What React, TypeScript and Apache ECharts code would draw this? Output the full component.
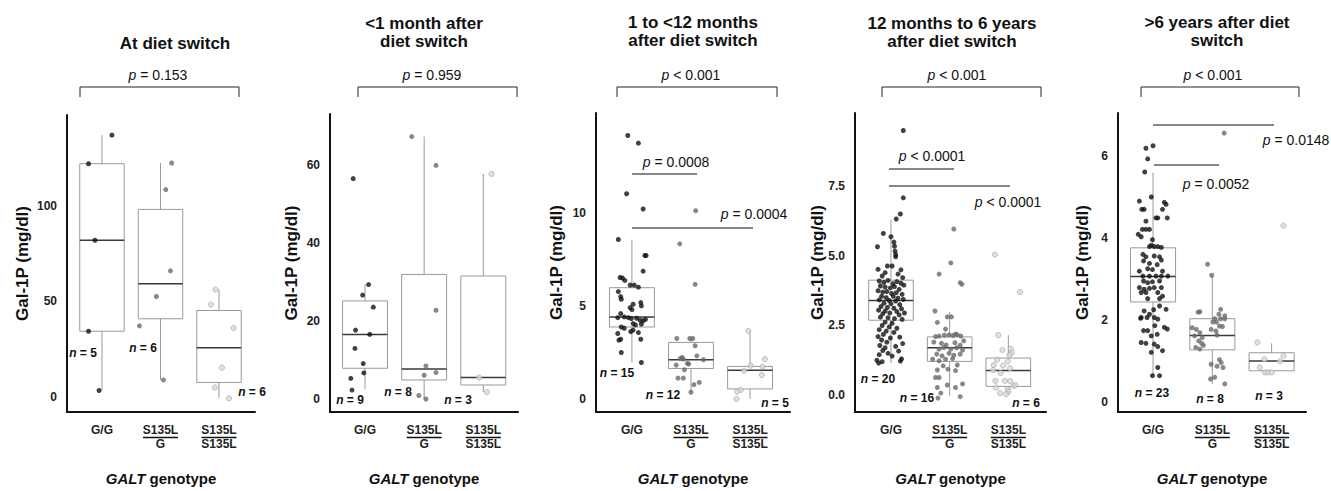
import React, { useEffect, useRef } from 'react';
import * as echarts from 'echarts';

const FF = '"Liberation Sans", Arial, Helvetica, sans-serif';

const categories = ['G/G', 'S135L\nG', 'S135L\nS135L'];
const panelTitles = [
  'At diet switch',
  '<1 month after\ndiet switch',
  '1 to <12 months\nafter diet switch',
  '12 months to 6 years\nafter diet switch',
  '>6 years after diet\nswitch',
];
const yTitle = 'Gal-1P (mg/dl)';
const overallP = ['= 0.153', '= 0.959', '< 0.001', '< 0.001', '< 0.001'];
const groupN = [[5, 6, 6], [9, 8, 3], [15, 12, 5], [20, 16, 6], [23, 8, 3]];
const yTicks = [[0, 50, 100], [0, 20, 40, 60], [0, 5, 10], [0, 2.5, 5, 7.5], [0, 2, 4, 6]];
const yMin = [-7.6, -3.33, -0.7, -0.61, -0.236];
const yMax = [147.2, 73.2, 15.37, 10.14, 7.06];
const xMin = [0.402, 0.408, 0.392, 0.387, 0.409];
const xMax = [3.615, 3.587, 3.676, 3.642, 3.58];

// box stats: [lower whisker, Q1, median, Q3, upper whisker]
const box1 = [[3.6, 34.5, 81.9, 121.8, 136.7], [9.1, 41.0, 59.3, 98.0, 122.2], [-0.4, 7.8, 25.9, 45.3, 56.2]];
const box2 = [[2.5, 7.9, 16.6, 25.2, 29.4], [0.0, 4.9, 7.7, 32.0, 67.4], [1.8, 3.6, 5.5, 31.6, 57.8]];
const box3 = [[1.96, 3.87, 4.41, 5.98, 8.57], [0.36, 1.64, 2.11, 3.04, 3.25], [0.0, 0.54, 1.55, 1.75, 3.66]];
const box4 = [[1.15, 2.69, 3.4, 4.13, 6.31], [-0.02, 1.21, 1.7, 2.09, 2.99], [0.03, 0.31, 0.88, 1.33, 2.15]];
const box5 = [[0.65, 2.45, 3.07, 3.77, 5.6], [0.45, 1.28, 1.63, 2.04, 3.1], [0.75, 0.77, 1.01, 1.21, 1.44]];

// individual measurements: [jittered group position, value]
const p1GG = [[1.17, 136.7], [0.77, 121.8], [0.88, 81.9], [0.77, 34.5], [0.95, 3.6]];
const p1SG = [[2.19, 122.2], [2.09, 108.3], [2.17, 66.0], [1.93, 52.6], [1.64, 37.3], [2.05, 9.1]];
const p1SS = [[2.94, 56.2], [2.86, 48.4], [3.25, 36.2], [3.05, 15.5], [2.93, 5.2], [3.17, -0.5]];

const p2GG = [[0.8, 56.6], [1.06, 29.4], [0.96, 26.7], [1.14, 23.6], [0.84, 17.7], [1.08, 16.6], [0.83, 13.0], [0.97, 9.1], [0.98, 6.7], [0.76, 5.3], [0.78, 2.3]];
const p2SG = [[1.79, 67.4], [2.2, 60.0], [2.2, 22.8], [2.03, 8.5], [2.0, 6.1], [2.2, 6.8], [1.91, 0.9], [2.03, 0.0]];
const p2SS = [[3.14, 57.8], [2.93, 5.5], [3.06, 1.8]];

const p3GG = [[0.93, 14.16], [1.11, 13.75], [0.91, 11.03], [1.19, 10.21], [0.77, 8.57], [1.22, 7.71], [1.24, 7.71], [1.19, 6.87], [0.8, 6.53], [0.84, 6.5], [0.88, 6.37], [0.97, 6.12], [1.04, 6.12], [1.11, 6.01], [0.77, 5.77], [0.81, 5.5], [0.82, 5.36], [1.02, 5.09], [1.15, 5.18], [1.16, 5.0], [0.97, 4.91], [1.0, 4.8], [0.81, 4.59], [0.87, 4.41], [0.94, 4.37], [0.99, 4.32], [1.08, 4.34], [1.14, 4.23], [1.19, 4.2], [1.23, 4.28], [0.76, 4.37], [1.02, 4.05], [1.06, 3.98], [0.82, 3.87], [0.87, 3.8], [1.16, 4.02], [1.02, 3.7], [0.98, 3.62], [1.11, 3.57], [0.76, 3.52], [0.78, 3.16], [0.81, 3.21], [1.15, 3.21], [0.82, 2.5], [1.16, 1.96]];
const p3SG = [[2.08, 10.12], [1.81, 8.34], [2.07, 6.16], [1.76, 3.25], [1.98, 3.25], [2.03, 3.25], [2.07, 2.86], [1.85, 2.23], [1.87, 2.14], [1.82, 2.18], [2.1, 2.32], [1.94, 1.91], [1.96, 1.88], [2.21, 2.11], [1.75, 1.82], [1.89, 1.57], [1.78, 1.12], [1.87, 1.12], [2.05, 0.77], [2.14, 0.89], [2.0, 0.36]];
const p3SS = [[2.97, 3.66], [3.25, 2.14], [3.01, 1.79], [3.21, 1.74], [2.9, 1.52], [3.2, 1.29], [2.84, 0.48], [2.78, 0.39], [2.77, 0.0]];

const p4GG = [[1.21, 9.51], [1.21, 7.09], [1.16, 6.51], [1.09, 6.33], [0.87, 5.81], [1.0, 5.69], [0.77, 5.33], [1.05, 5.5], [1.06, 5.35], [1.07, 5.17], [1.08, 5.05], [1.08, 4.97], [0.94, 4.64], [1.02, 4.64], [0.78, 4.52], [1.17, 4.5], [0.9, 4.4], [1.12, 4.35], [0.85, 4.28], [1.2, 4.22],
  [0.8, 4.1], [0.88, 4.05], [0.95, 4.12], [1.03, 4.0], [1.1, 4.08], [1.17, 4.02], [1.22, 3.95], [0.82, 3.92], [0.9, 3.88], [0.99, 3.85], [1.06, 3.9], [1.14, 3.8], [0.78, 3.75], [0.86, 3.7], [0.93, 3.72], [1.01, 3.65], [1.09, 3.68], [1.19, 3.62], [0.84, 3.55], [0.92, 3.5], [1.04, 3.55], [1.12, 3.48], [0.8, 3.42], [0.97, 3.4], [1.08, 3.38], [1.21, 3.44], [0.88, 3.3], [1.0, 3.28], [1.15, 3.25], [0.83, 3.18], [0.94, 3.15], [1.05, 3.12], [1.18, 3.1], [0.79, 3.05], [0.9, 3.02], [1.1, 3.0], [0.86, 2.92], [0.98, 2.95], [1.14, 2.88], [1.23, 2.95], [0.82, 2.8], [0.95, 2.78], [1.06, 2.75], [1.19, 2.72],
  [0.9, 2.62], [1.02, 2.58], [0.85, 2.5], [0.97, 2.45], [1.1, 2.4], [0.8, 2.35], [0.92, 2.3], [1.05, 2.25], [0.87, 2.18], [0.78, 2.1], [0.99, 2.05], [1.15, 2.08], [0.84, 1.98], [0.93, 1.9], [1.2, 1.85], [0.81, 1.78], [0.9, 1.7], [1.08, 1.75], [0.86, 1.6], [1.13, 1.58], [0.95, 1.5], [0.8, 1.45], [1.02, 1.4], [1.18, 1.3], [0.76, 1.25], [0.85, 1.2], [1.16, 1.22], [0.79, 1.15]];
const p4SG = [[2.07, 5.97], [2.02, 4.75], [1.82, 4.35], [2.18, 4.04], [2.21, 3.98], [1.75, 3.02], [1.96, 2.81], [2.03, 2.81], [1.79, 2.61], [1.93, 2.37], [2.1, 2.19], [1.76, 2.1], [1.82, 2.12], [1.91, 2.15], [1.99, 2.16], [2.06, 2.14], [2.13, 2.17], [2.19, 2.12], [1.73, 1.9], [1.86, 1.86], [1.94, 1.8], [2.09, 1.88], [2.18, 1.79], [2.24, 1.95], [1.82, 1.65], [1.9, 1.71], [2.02, 1.65], [2.12, 1.7], [2.22, 1.62], [1.78, 1.47], [1.87, 1.41], [1.99, 1.5], [2.07, 1.43], [2.18, 1.47], [1.71, 1.29], [1.82, 1.23], [1.93, 1.29], [2.05, 1.31], [1.89, 1.05], [1.79, 0.9], [1.97, 0.93], [2.13, 1.08], [1.76, 0.63], [1.82, 0.63], [2.1, 0.88], [1.96, 0.36], [1.79, 0.27], [2.1, 0.27], [2.22, 0.4], [1.85, 0.07], [1.8, -0.11], [2.18, -0.06]];
const p4SS = [[2.77, 5.05], [3.2, 3.7], [2.83, 2.15], [2.9, 1.62], [3.04, 1.66], [3.06, 1.52], [3.02, 1.44], [2.81, 1.27], [2.99, 1.21], [2.75, 1.08], [2.91, 1.06], [3.03, 0.96], [2.74, 0.9], [2.87, 0.79], [2.78, 0.51], [2.94, 0.51], [3.03, 0.5], [3.09, 0.33], [3.12, 0.36], [2.79, 0.27], [2.99, 0.22], [2.86, 0.07], [3.0, 0.12], [2.96, 0.03]];

const p5GG = [[1.0, 6.26], [0.88, 6.2], [0.91, 5.94], [0.86, 5.62], [0.97, 5.01], [0.77, 4.91], [0.81, 4.71], [0.85, 4.71], [1.19, 4.88], [1.22, 4.83], [1.16, 4.71], [1.24, 4.5], [1.08, 4.5], [0.88, 4.42], [1.05, 4.5], [0.82, 4.22], [0.88, 4.22], [0.94, 4.22], [0.75, 4.1], [0.8, 4.04], [0.99, 3.97], [0.97, 3.83], [0.94, 3.8], [1.02, 3.8], [1.08, 3.8], [1.14, 3.78], [0.83, 3.61], [0.88, 3.55], [1.02, 3.57], [1.11, 3.55], [0.84, 3.45], [0.94, 3.39], [1.07, 3.36], [1.14, 3.47], [0.77, 3.2], [0.91, 3.26], [0.99, 3.24], [1.16, 3.2], [0.83, 3.08], [0.94, 3.08], [1.05, 3.08], [1.14, 3.08], [1.25, 3.08], [0.84, 2.96], [0.91, 2.92], [0.99, 2.94], [1.11, 2.96], [0.77, 2.8], [0.85, 2.76], [0.94, 2.78], [1.02, 2.8], [1.14, 2.8], [0.8, 2.68], [0.88, 2.68], [1.08, 2.68], [1.16, 2.59], [0.91, 2.53], [1.11, 2.53], [1.11, 2.35], [1.01, 2.26], [0.85, 2.23], [0.94, 2.15], [0.8, 2.07], [0.79, 2.05], [0.9, 2.07], [1.02, 2.07], [1.08, 2.03], [1.22, 2.27], [1.24, 1.79], [1.19, 1.83], [1.03, 1.87], [0.84, 1.75], [0.91, 1.75], [0.97, 1.62], [1.07, 1.66], [0.8, 1.46], [0.88, 1.44], [1.02, 1.42], [1.08, 1.36], [1.16, 1.26], [0.97, 1.22], [1.08, 0.85], [0.99, 0.65], [1.11, 0.65]];
const p5SG = [[2.2, 6.57], [1.92, 3.37], [1.99, 3.1], [1.76, 2.2], [1.79, 2.21], [2.14, 2.27], [2.11, 2.15], [2.21, 2.11], [2.04, 2.04], [2.14, 2.04], [2.21, 2.04], [2.01, 1.96], [2.07, 1.96], [2.12, 1.86], [2.17, 1.85], [1.66, 1.82], [1.73, 1.78], [1.79, 1.7], [1.7, 1.62], [1.83, 1.58], [1.77, 1.5], [1.82, 1.44], [1.85, 1.39], [1.72, 1.34], [1.79, 1.3], [1.98, 1.78], [2.06, 1.74], [2.08, 1.64], [2.12, 1.04], [2.15, 0.97], [1.98, 0.93], [2.18, 0.85], [2.08, 0.88], [2.04, 0.61], [1.97, 0.57], [2.21, 0.45]];
const p5SS = [[3.2, 4.31], [2.76, 1.46], [2.88, 1.05], [3.2, 1.13], [3.14, 1.0], [2.8, 0.85], [2.89, 0.73], [2.94, 0.73], [3.0, 0.73]];

const boxes = [box1, box2, box3, box4, box5];
const points = [[p1GG, p1SG, p1SS], [p2GG, p2SG, p2SS], [p3GG, p3SG, p3SS], [p4GG, p4SG, p4SS], [p5GG, p5SG, p5SS]];

// pairwise comparison labels per panel
const pairP = [[], [], ['= 0.0008', '= 0.0004'], ['< 0.0001', '< 0.0001'], ['= 0.0148', '= 0.0052']];

// ---- layout (pixels) ----
const gridLeft = [67, 330, 596, 855, 1118];
const gridWidth = [188, 188, 194, 191, 188];
const gridTop = [115, 114, 113, 113, 113];
const gridHeight = [299, 299, 300, 300, 300];
const yTitleX = [22, 291, 556, 817, 1082];
const titleX = [175, 424, 693, 952, 1217];
const titleY = [43, 32, 31, 32, 31];
const pX = [158, 432, 691, 957, 1213];
const bracketX = [[80, 239], [358, 517], [617, 777], [882, 1041], [1141, 1299]];
const nPos = [
  [[83, 353], [143, 348], [252, 392]],
  [[350, 400], [398, 392], [458, 400]],
  [[617, 373], [663, 395], [775, 403]],
  [[878, 379], [917, 398], [1026, 403]],
  [[1152, 393], [1210, 399], [1269, 396]],
];
const pairLines = [[], [], [[632, 697, 174], [632, 753, 228]], [[889, 954, 169], [889, 1010, 186]], [[1153, 1274, 125], [1154, 1219, 165]]];
const pairText = [[], [], [[676, 162], [754, 214]], [[932, 156], [1008, 202]], [[1296, 140], [1216, 184]]];

const groupStyle = [
  { color: '#111111', borderColor: '#111111', borderWidth: 0 },
  { color: '#6a6a6a', borderColor: '#6a6a6a', borderWidth: 0 },
  { color: '#dadada', borderColor: '#a0a0a0', borderWidth: 0.8 },
];
const groupSize = [5, 5, 5.2];

function buildOption() {
  const grid: any[] = [];
  const xAxis: any[] = [];
  const yAxis: any[] = [];
  const series: any[] = [];
  for (let i = 0; i < 5; i++) {
    grid.push({ left: gridLeft[i], top: gridTop[i], width: gridWidth[i], height: gridHeight[i] });
    xAxis.push({
      type: 'value', gridIndex: i, min: xMin[i], max: xMax[i],
      axisLine: { show: true, onZero: false, lineStyle: { color: '#111', width: 2 } },
      axisTick: { show: false }, splitLine: { show: false },
      axisLabel: {
        customValues: [1, 2, 3],
        formatter: (v: number) => categories[Math.round(v) - 1] || '',
        fontFamily: FF, fontWeight: 'bold', fontSize: 12, lineHeight: 14, color: '#222', margin: 11,
      },
      name: '{i|GALT} genotype', nameLocation: 'middle', nameGap: 59,
      nameTextStyle: {
        fontFamily: FF, fontWeight: 'bold', fontSize: 15, color: '#111',
        rich: { i: { fontFamily: FF, fontWeight: 'bold', fontStyle: 'italic', fontSize: 15, color: '#111' } },
      },
    });
    yAxis.push({
      type: 'value', gridIndex: i, min: yMin[i], max: yMax[i],
      axisLine: { show: true, onZero: false, lineStyle: { color: '#111', width: 2 } },
      axisTick: { show: false }, splitLine: { show: false },
      axisLabel: {
        customValues: yTicks[i],
        formatter: i === 3 ? (v: number) => v.toFixed(1) : (v: number) => String(v),
        fontFamily: FF, fontWeight: 'bold', fontSize: 12, color: '#222', margin: 10,
      },
    });
    series.push({
      type: 'custom', xAxisIndex: i, yAxisIndex: i, silent: true, clip: false,
      dimensions: ['g', 'lo', 'q1', 'med', 'q3', 'hi'],
      encode: { x: 0, y: [1, 2, 3, 4, 5] },
      data: boxes[i].map((b, k) => [k + 1, ...b]),
      renderItem: (_p: any, api: any) => {
        const g = api.value(0);
        const hw = 0.38;
        const tl = api.coord([g - hw, api.value(4)]);
        const br = api.coord([g + hw, api.value(2)]);
        const md = api.coord([g, api.value(3)]);
        const hi = api.coord([g, api.value(5)]);
        const lo = api.coord([g, api.value(1)]);
        const wStyle = { stroke: '#999999', lineWidth: 1 };
        return {
          type: 'group',
          children: [
            { type: 'line', shape: { x1: md[0], y1: hi[1], x2: md[0], y2: tl[1] }, style: wStyle },
            { type: 'line', shape: { x1: md[0], y1: br[1], x2: md[0], y2: lo[1] }, style: wStyle },
            { type: 'rect', shape: { x: tl[0], y: tl[1], width: br[0] - tl[0], height: br[1] - tl[1] }, style: { fill: 'none', stroke: '#999999', lineWidth: 1 } },
            { type: 'line', shape: { x1: tl[0], y1: md[1], x2: br[0], y2: md[1] }, style: { stroke: '#3a3a3a', lineWidth: 1.5 } },
          ],
        };
      },
    });
    for (let k = 0; k < 3; k++) {
      series.push({
        type: 'scatter', xAxisIndex: i, yAxisIndex: i, silent: true,
        symbolSize: groupSize[k], itemStyle: groupStyle[k], data: points[i][k],
      });
    }
  }
  return { animation: false, backgroundColor: '#fff', grid, xAxis, yAxis, series };
}

function buildGraphics(chart: any) {
  const els: any[] = [];
  const txt = (x: number, y: number, text: string, extra: any) => ({
    type: 'text', silent: true,
    style: { x, y, text, align: 'center', verticalAlign: 'middle', fontFamily: FF, fill: '#111', ...extra },
  });
  const ln = (x1: number, y1: number, x2: number, y2: number, w = 1) => ({
    type: 'line', silent: true, shape: { x1, y1, x2, y2 }, style: { stroke: '#111', lineWidth: w },
  });
  const italicP = { i: { fontFamily: FF, fontStyle: 'italic', fontSize: 14, fill: '#111' } };
  for (let i = 0; i < 5; i++) {
    els.push(txt(titleX[i], titleY[i], panelTitles[i], { fontSize: 17, fontWeight: 'bold', lineHeight: 18 }));
    els.push(txt(pX[i], 75, '{i|p} ' + overallP[i], { fontSize: 14, rich: italicP }));
    const [bx1, bx2] = bracketX[i];
    els.push({ type: 'polyline', silent: true, shape: { points: [[bx1, 97], [bx1, 87], [bx2, 87], [bx2, 97]] }, style: { stroke: '#222', lineWidth: 1, fill: 'none' } });
    for (let k = 0; k < 3; k++) {
      els.push(txt(nPos[i][k][0], nPos[i][k][1], '{i|n} = ' + groupN[i][k], {
        fontSize: 12, fontWeight: 'bold',
        rich: { i: { fontFamily: FF, fontStyle: 'italic', fontWeight: 'bold', fontSize: 12, fill: '#111' } },
      }));
    }
    pairLines[i].forEach((l, k) => {
      els.push(ln(l[0], l[2], l[1], l[2]));
      els.push(txt(pairText[i][k][0], pairText[i][k][1], '{i|p} ' + pairP[i][k], { fontSize: 14, rich: italicP }));
    });
    const yBase = chart.convertToPixel({ yAxisIndex: i }, yMin[i]);
    const yTop = chart.convertToPixel({ yAxisIndex: i }, yMax[i]);
    els.push({
      type: 'text', silent: true, x: yTitleX[i], y: (yBase + yTop) / 2, rotation: Math.PI / 2,
      style: { x: 0, y: 0, text: yTitle, align: 'center', verticalAlign: 'middle', fontFamily: FF, fontWeight: 'bold', fontSize: 17, fill: '#111' },
    });
    for (const c of [2, 3]) {
      const cx = chart.convertToPixel({ xAxisIndex: i }, c);
      els.push(ln(cx - 17.5, yBase + 25.5, cx + 17.5, yBase + 25.5, 1.3));
    }
  }
  return { elements: els };
}

export default function App() {
  const ref = useRef<HTMLDivElement>(null);
  useEffect(() => {
    const chart = echarts.init(ref.current!, null, { renderer: 'svg' });
    chart.setOption(buildOption());
    chart.setOption({ graphic: buildGraphics(chart) });
    return () => chart.dispose();
  }, []);
  return <div ref={ref} style={{ position: 'absolute', left: 0, top: 0, width: 1331, height: 491, background: '#fff' }} />;
}
